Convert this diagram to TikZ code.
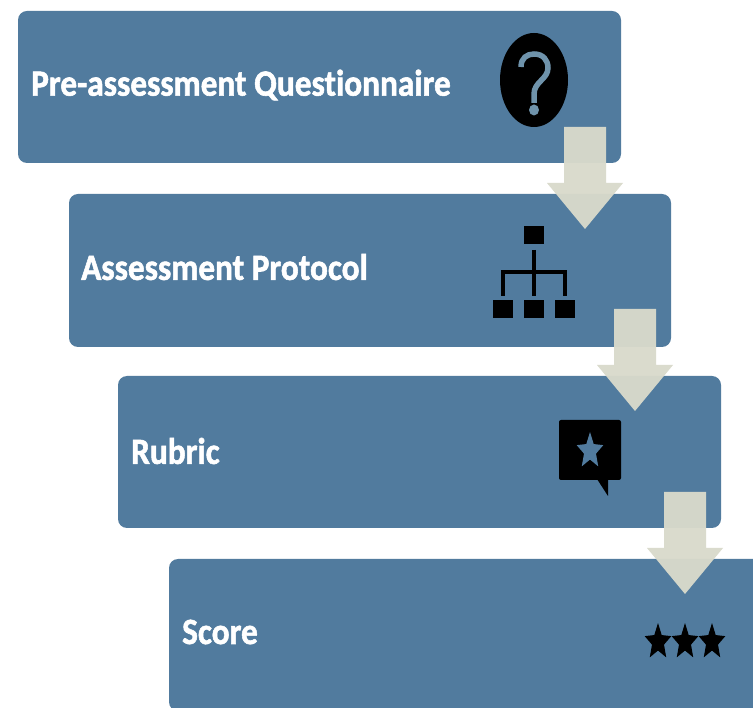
\documentclass[tikz,border=0pt]{standalone}
\usepackage{fontspec}
\usetikzlibrary{shapes.geometric}
\setmainfont{Carlito}[Ligatures=CommonOff,BoldFeatures={FakeBold=1.6}]
\definecolor{boxblue}{HTML}{517B9E}
\definecolor{arrowtan}{HTML}{D9DACB}
\definecolor{qmark}{HTML}{6F93AB}
\tikzset{
  x=1pt,y=-1pt,
  stagebox/.style={fill=boxblue,rounded corners=9pt,minimum width=603pt,minimum height=152pt,anchor=north west,inner sep=0pt,outer sep=0pt},
  stagelabel/.style={anchor=west,text=white,inner sep=0pt,font=\bfseries\fontsize{37}{37}\selectfont,xscale=.90,transform shape},
  blockarrow/.pic={\fill[arrowtan,fill opacity=.96] (-21,0) -- (21,0) -- (21,56) -- (38,56) -- (0,102) -- (-38,56) -- (-21,56) -- cycle;},
  unitstar/.pic={\fill[pic actions] (0,-1) -- (.265,-.365) -- (.951,-.309) -- (.428,.139) -- (.588,.809) -- (0,.45) -- (-.588,.809) -- (-.428,.139) -- (-.951,-.309) -- (-.265,-.365) -- cycle;},
  orgbox/.style={fill=black,minimum width=20pt,minimum height=18pt,inner sep=0pt,outer sep=0pt},
  orgline/.style={draw=black,line width=3.6pt}
}
\begin{document}
\begin{tikzpicture}
\clip (0,0) rectangle (753,708);
\fill[white] (0,0) rectangle (753,708);
% boxes
\node[stagebox] (b1) at (18,11) {};
\node[stagebox,minimum width=602pt,minimum height=153pt] (b2) at (69,194) {};
\node[stagebox] (b3) at (118,376) {};
\node[stagebox] (b4) at (169,559) {};
% labels
\node[stagelabel] (t1) at (31,85) {Pre-assessment Questionnaire};
\node[stagelabel] (t2) at (81,267) {Assessment Protocol};
\node[stagelabel] (t3) at (131,451) {Rubric};
\node[stagelabel] (t4) at (182,632) {Score};
% question icon
\node[ellipse,fill=black,minimum width=68pt,minimum height=94pt,inner sep=0pt] (q) at (534,80) {};
\draw[qmark,line width=5.5pt] (521,67) .. controls (521,58) and (527,54) .. (534,54) .. controls (543,54) and (548,60) .. (548,68) .. controls (548,79) and (534,82) .. (534,94) -- (534,103);
\fill[qmark] (534,110) ellipse (5 and 5.5);
% org chart icon
\node[orgbox] (o0) at (534,235.5) {};
\node[orgbox] (o1) at (503,309.5) {};
\node[orgbox] (o2) at (534,309.5) {};
\node[orgbox] (o3) at (565,309.5) {};
\coordinate (oj) at (534,272);
\draw[orgline] (534,250) -- (oj);
\draw[orgline] (oj) -- (534,296);
\draw[orgline] (503,296) -- (503,272) -- (565,272) -- (565,296);
% speech icon
\fill[black,rounded corners=2pt] (559,420) rectangle (621,480);
\fill[black] (597,479) -- (608,496) -- (608,479) -- cycle;
\pic[fill=boxblue,xscale=14,yscale=19] at (590,451) {unitstar};
% stars
\pic[fill=black,xscale=14,yscale=19] at (658,642) {unitstar};
\pic[fill=black,xscale=14,yscale=19] at (685,642) {unitstar};
\pic[fill=black,xscale=14,yscale=19] at (712,642) {unitstar};
% arrows
\coordinate (a1) at (585,127);
\coordinate (a2) at (635,309);
\coordinate (a3) at (685,492);
\pic at (a1) {blockarrow};
\pic at (a2) {blockarrow};
\pic at (a3) {blockarrow};
\end{tikzpicture}
\end{document}
